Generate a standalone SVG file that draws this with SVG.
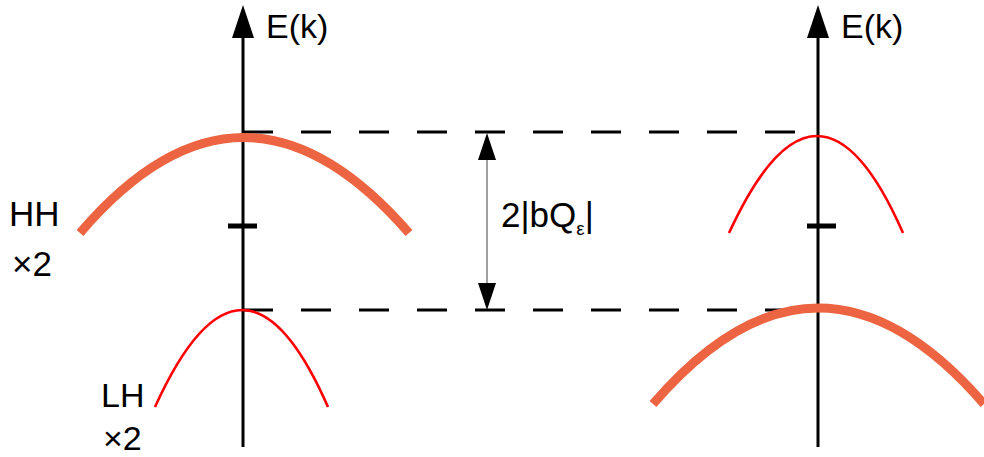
<svg xmlns="http://www.w3.org/2000/svg" width="984" height="457" viewBox="0 0 984 457">
<style>
.axis{stroke:#000;stroke-width:3;fill:none}
.dash{stroke:#000;stroke-width:3;stroke-dasharray:30 28;fill:none}
.thick{stroke:#ec6441;stroke-width:9;fill:none}
.thin{stroke:#ff0000;stroke-width:2.6;fill:none}
.tick{stroke:#000;stroke-width:5}
text{font-family:"Liberation Sans",Arial,sans-serif;fill:#000}
</style>
<g id="connectors">
<line class="dash" x1="243" y1="132" x2="797" y2="132"/>
<line class="dash" x1="243" y1="310" x2="797" y2="310"/>
<line x1="487" y1="160" x2="487" y2="283" stroke="#808080" stroke-width="1.5"/>
<path d="M478,160 L496,160 L487,133 z" fill="#000"/>
<path d="M478,283 L496,283 L487,310 z" fill="#000"/>
</g>
<g id="left-axis">
<line class="axis" x1="243" y1="447" x2="243" y2="36"/>
<path d="M232,38 L254,38 L243,5 z" fill="#000"/>
<line class="tick" x1="228" y1="226" x2="257" y2="226"/>
<text x="266" y="38" font-size="34">E(k)</text>
</g>
<g id="right-axis">
<line class="axis" x1="818" y1="447" x2="818" y2="36"/>
<path d="M807,38 L829,38 L818,5 z" fill="#000"/>
<line class="tick" x1="807" y1="226" x2="836" y2="226"/>
<text x="841" y="38" font-size="34">E(k)</text>
</g>
<g id="left-HH">
<path class="thick" d="M80,233 Q243,42 409,233"/>
</g>
<g id="left-LH">
<path class="thin" d="M155,407 Q243,213 328,407"/>
</g>
<g id="right-HH">
<path class="thin" d="M729,233 Q818,39 903,233"/>
</g>
<g id="right-LH">
<path class="thick" d="M653,404 Q818,212 984,404"/>
</g>
<g id="label-gap">
<text x="501" y="227" font-size="35">2|bQ<tspan font-size="19" dy="8">ε</tspan><tspan dy="-8" font-size="35">|</tspan></text>
</g>
<g id="label-HH">
<text x="9" y="226" font-size="35">HH</text>
<text x="12" y="276" font-size="35">×2</text>
</g>
<g id="label-LH">
<text x="101" y="407" font-size="34">LH</text>
<text x="103" y="450" font-size="34">×2</text>
</g>
</svg>
